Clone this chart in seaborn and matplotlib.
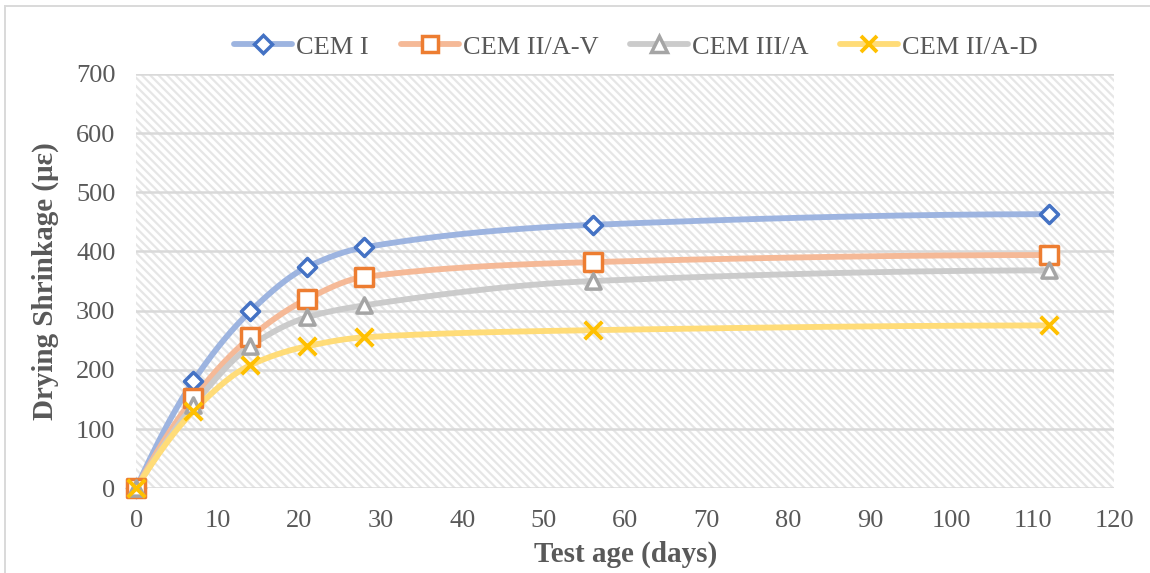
import numpy as np
import pandas as pd
import matplotlib
matplotlib.use("Agg")
import matplotlib.pyplot as plt
from matplotlib.lines import Line2D
from matplotlib.patches import Rectangle
import seaborn as sns

# Drying shrinkage measurements (microstrain) by test age
days = [0, 7, 14, 21, 28, 56, 112]
cem_i = [0, 181, 299, 374, 407, 445, 463]
cem_ii_av = [0, 152, 255, 320, 357, 382, 394]
cem_iii_a = [0, 140, 240, 289, 309, 350, 368]
cem_ii_ad = [0, 130, 208, 240, 255, 267, 275]

series_names = ["CEM I", "CEM II/A-V", "CEM III/A", "CEM II/A-D"]
series_values = [cem_i, cem_ii_av, cem_iii_a, cem_ii_ad]
x_ticks = list(range(0, 121, 10))
y_ticks = list(range(0, 701, 100))

line_colors = ["#9db4e0", "#f5b997", "#cbcbcb", "#ffdc78"]
marker_colors = ["#4472C4", "#ED7D31", "#A5A5A5", "#FFC000"]
marker_shapes = ["D", "s", "^", "x"]
marker_sizes = [85, 160, 120, 160]

sns.set_theme(style="white")
plt.rcParams["font.family"] = ["Liberation Serif", "DejaVu Serif"]
plt.rcParams["hatch.linewidth"] = 1.6


def smooth_curve(xs, ys, n=60):
    """Monotone cubic Hermite curve through the points (PCHIP tangents)."""
    x = np.asarray(xs, float)
    y = np.asarray(ys, float)
    h = np.diff(x)
    d = np.diff(y) / h
    m = np.zeros_like(y)
    for k in range(1, len(x) - 1):
        if d[k - 1] * d[k] > 0:
            w1 = 2 * h[k] + h[k - 1]
            w2 = h[k] + 2 * h[k - 1]
            m[k] = (w1 + w2) / (w1 / d[k - 1] + w2 / d[k])
    m[0] = ((2 * h[0] + h[1]) * d[0] - h[0] * d[1]) / (h[0] + h[1])
    m[-1] = ((2 * h[-1] + h[-2]) * d[-1] - h[-1] * d[-2]) / (h[-1] + h[-2])
    if m[-1] * d[-1] < 0:
        m[-1] = 0
    cx, cy = [], []
    for k in range(len(x) - 1):
        t = np.linspace(0, 1, n)
        if k > 0:
            t = t[1:]
        h00 = 2 * t ** 3 - 3 * t ** 2 + 1
        h10 = t ** 3 - 2 * t ** 2 + t
        h01 = -2 * t ** 3 + 3 * t ** 2
        h11 = t ** 3 - t ** 2
        cx.append(x[k] + t * h[k])
        cy.append(h00 * y[k] + h10 * h[k] * m[k] + h01 * y[k + 1] + h11 * h[k] * m[k + 1])
    return np.concatenate(cx), np.concatenate(cy)


curve_frames = []
point_frames = []
for name, vals in zip(series_names, series_values):
    cx, cy = smooth_curve(days, vals)
    curve_frames.append(pd.DataFrame({"days": cx, "shrinkage": cy, "mix": name}))
    point_frames.append(pd.DataFrame({"days": days, "shrinkage": vals, "mix": name}))
curves = pd.concat(curve_frames, ignore_index=True)
points = pd.concat(point_frames, ignore_index=True)

fig = plt.figure(figsize=(11.5, 5.73), dpi=100)
fig.patches.append(Rectangle((0.0045, -0.02), 1.05, 1.0095, transform=fig.transFigure,
                             fill=False, edgecolor="#d9d9d9", linewidth=1.4))
ax = fig.add_axes([0.1185, 0.148, 0.8505, 0.723])

# hatched plot area
ax.add_patch(Rectangle((0, 0), 1, 1, transform=ax.transAxes, facecolor="white",
                       edgecolor="#e6e6e6", linewidth=0, hatch="\\\\\\\\", zorder=0))

for yt in y_ticks:
    ax.axhline(yt, color="#d9d9d9", linewidth=1.8, zorder=1)

sns.lineplot(data=curves, x="days", y="shrinkage", hue="mix", units="mix",
             estimator=None, sort=False, palette=dict(zip(series_names, line_colors)),
             linewidth=4.2, legend=False, ax=ax, zorder=2)

for name, mc, ms, sz in zip(series_names, marker_colors, marker_shapes, marker_sizes):
    sub = points[points["mix"] == name]
    if ms == "x":
        sns.scatterplot(data=sub, x="days", y="shrinkage", marker="x", color=mc,
                        s=sz, linewidth=2.8, ax=ax, zorder=3, legend=False, clip_on=False)
    else:
        sns.scatterplot(data=sub, x="days", y="shrinkage", marker=ms, facecolor="white",
                        edgecolor=mc, s=sz, linewidth=2.5, ax=ax, zorder=3, legend=False,
                        clip_on=False)

ax.set_xlim(0, 120)
ax.set_ylim(0, 700)
ax.set_xticks(x_ticks)
ax.set_yticks(y_ticks)
ax.tick_params(axis="both", labelsize=19, colors="#595959", length=0)
ax.tick_params(axis="y", pad=15)
ax.tick_params(axis="x", pad=16)
for sp in ax.spines.values():
    sp.set_visible(False)
ax.set_xlabel("Test age (days)", fontsize=21, fontweight="bold", color="#595959", labelpad=6)
ax.set_ylabel("Drying Shrinkage (με)", fontsize=21, fontweight="bold", color="#595959", labelpad=12)

handles = []
for lc, mc, ms in zip(line_colors, marker_colors, marker_shapes):
    if ms == "x":
        h = Line2D([0], [0], color=lc, linewidth=4.2, marker="x", markersize=12,
                   markeredgecolor=mc, markeredgewidth=2.8)
    else:
        h = Line2D([0], [0], color=lc, linewidth=4.2, marker=ms,
                   markersize={"D": 9, "s": 12, "^": 11}[ms],
                   markerfacecolor="white", markeredgecolor=mc, markeredgewidth=2.5)
    handles.append(h)
leg = fig.legend(handles, series_names, loc="center", bbox_to_anchor=(0.553, 0.918),
                 ncol=4, frameon=False, fontsize=19, handlelength=2.2,
                 columnspacing=1.2, handletextpad=0.15)
for t in leg.get_texts():
    t.set_color("#595959")

fig.savefig("out.png", dpi=100)
